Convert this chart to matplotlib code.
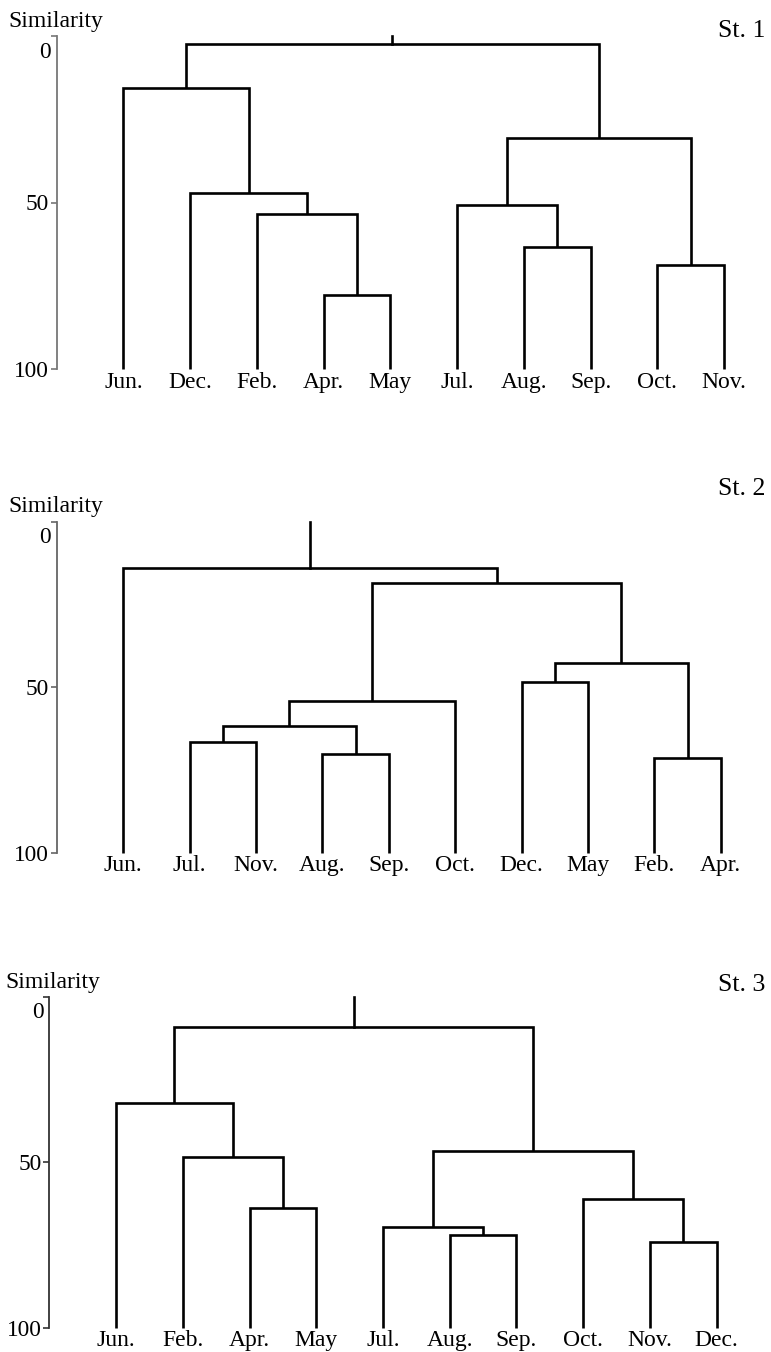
import matplotlib
matplotlib.use('Agg')
import matplotlib.pyplot as plt

plt.rcParams['font.family'] = ['Liberation Serif', 'DejaVu Serif']

W, H = 771, 1352

# leaf order and merges (child a, child b, similarity level); leaves are 0..9,
# each merge gets the next index (10, 11, ...)
st1_leaves = ['Jun.', 'Dec.', 'Feb.', 'Apr.', 'May', 'Jul.', 'Aug.', 'Sep.', 'Oct.', 'Nov.']
st1_merges = [(3, 4, 77.9), (2, 10, 53.6), (1, 11, 47.0), (0, 12, 15.7),
              (6, 7, 63.3), (5, 14, 50.8), (8, 9, 68.8), (15, 16, 30.7),
              (13, 17, 2.5)]

st2_leaves = ['Jun.', 'Jul.', 'Nov.', 'Aug.', 'Sep.', 'Oct.', 'Dec.', 'May', 'Feb.', 'Apr.']
st2_merges = [(1, 2, 66.5), (3, 4, 70.2), (10, 11, 61.6), (12, 5, 54.2),
              (6, 7, 48.3), (8, 9, 71.4), (14, 15, 42.8), (13, 16, 18.4),
              (0, 17, 13.9)]

st3_leaves = ['Jun.', 'Feb.', 'Apr.', 'May', 'Jul.', 'Aug.', 'Sep.', 'Oct.', 'Nov.', 'Dec.']
st3_merges = [(2, 3, 63.7), (1, 10, 48.3), (0, 11, 32.2), (5, 6, 71.9),
              (4, 13, 69.7), (8, 9, 74.2), (7, 15, 61.0), (14, 16, 46.6),
              (12, 17, 9.1)]

yticks = [0, 50, 100]
station_names = ['St. 1', 'St. 2', 'St. 3']


def px_axes(fig, left, top, right, bottom):
    return fig.add_axes([left / W, 1 - bottom / H, (right - left) / W, (bottom - top) / H])


def draw_tree(ax, leaves, merges, spine_color):
    xs = list(range(len(leaves)))
    ys = [100] * len(leaves)
    for a, b, h in merges:
        ax.plot([xs[a], xs[a], xs[b], xs[b]], [ys[a], h, h, ys[b]],
                color='black', lw=1.9, solid_joinstyle='miter',
                solid_capstyle='butt', clip_on=False)
        xs.append((xs[a] + xs[b]) / 2)
        ys.append(h)
    # stub on top of the root
    ax.plot([xs[-1], xs[-1]], [ys[-1], 0], color='black', lw=1.9, clip_on=False)

    for i, lab in enumerate(leaves):
        ax.text(i, 105.6, lab, ha='center', va='baseline', fontsize=17)

    ax.set_xlim(-1, 9.5)
    ax.set_ylim(100, 0)
    for s in ['top', 'right', 'bottom']:
        ax.spines[s].set_visible(False)
    ax.spines['left'].set_color(spine_color)
    ax.spines['left'].set_linewidth(1.3)
    ax.set_xticks([])
    ax.set_yticks(yticks)
    # the "0" label sits a little below its tick, drawn separately
    ax.set_yticklabels([''] + [str(t) for t in yticks[1:]])
    ax.tick_params(axis='y', direction='out', length=4.5, width=1.2,
                   color=spine_color, pad=1, labelsize=16.8)
    ax.annotate(str(yticks[0]), xy=(0, yticks[0]), xycoords=('axes fraction', 'data'),
                xytext=(-4.3, -4), textcoords='offset points',
                ha='right', va='top', fontsize=16.8)
    ax.patch.set_alpha(0)


fig = plt.figure(figsize=(W / 100, H / 100), dpi=100)

ax1 = px_axes(fig, 56.7, 36, 56.7 + 10.5 * 66.74, 369)
draw_tree(ax1, st1_leaves, st1_merges, '#777777')
ax2 = px_axes(fig, 56.7, 521.7, 56.7 + 10.5 * 66.41, 852.7)
draw_tree(ax2, st2_leaves, st2_merges, '#666666')
ax3 = px_axes(fig, 49.3, 996.7, 49.3 + 10.5 * 66.74, 1327.7)
draw_tree(ax3, st3_leaves, st3_merges, '#333333')

# "Similarity" titles and station names
for (sx, sy), (tx, ty), name in zip([(8, 27), (8, 512), (5, 988)],
                                    [(718, 37), (718, 495), (718, 991)],
                                    station_names):
    fig.text(sx / W, 1 - sy / H, 'Similarity', ha='left', va='baseline', fontsize=17)
    fig.text(tx / W, 1 - ty / H, name, ha='left', va='baseline', fontsize=18.5)

fig.savefig('out.png', dpi=100)
